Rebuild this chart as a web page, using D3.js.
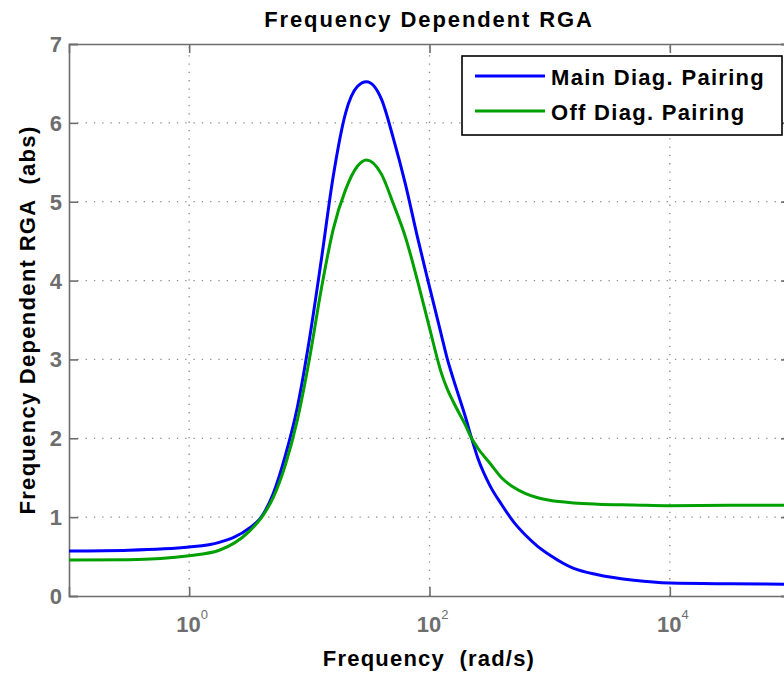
<!DOCTYPE html>
<html>
<head>
<meta charset="utf-8">
<script src="https://cdnjs.cloudflare.com/ajax/libs/d3/7.8.5/d3.min.js"></script>
<style>
  body { margin: 0; background: #fff; }
  svg { display: block; font-family: "Liberation Sans", Arial, sans-serif; }
</style>
</head>
<body>
<svg id="chart" width="784" height="679"></svg>
<script>
// frequency points (rad/s)
const freq = [0.1, 0.316, 1, 1.78, 3.16, 3.98, 5.01, 6.31, 7.94, 10, 12.6, 15.8, 20, 25.1, 29.9,
  39.8, 50.1, 63.1, 79.4, 100, 126, 141, 158, 200, 224, 251, 316, 398, 501, 631, 794, 1000, 1585, 2512,
  5012, 10000, 31623, 100000];
const mainDiag = [0.57, 0.58, 0.62, 0.68, 0.86, 1.0, 1.30, 1.78, 2.39, 3.25, 4.27, 5.32, 6.12, 6.46, 6.52,
  6.3, 5.8, 5.22, 4.55, 3.92, 3.3, 3.0, 2.75, 2.26, 2.0, 1.76, 1.41, 1.16, 0.94, 0.77, 0.63, 0.52, 0.35, 0.27,
  0.2, 0.165, 0.155, 0.15];
const offDiag = [0.455, 0.46, 0.51, 0.58, 0.82, 0.99, 1.25, 1.66, 2.23, 3.0, 3.9, 4.65, 5.15, 5.45, 5.53,
  5.35, 4.97, 4.55, 4.0, 3.40, 2.82, 2.62, 2.46, 2.16, 2.0, 1.88, 1.69, 1.50, 1.378, 1.298, 1.246, 1.213, 1.18, 1.165,
  1.155, 1.145, 1.15, 1.15];
const seriesNames = ["Main Diag. Pairing", "Off Diag. Pairing"];
const seriesColors = ["#0000ff", "#00a000"];
const xTicks = [1, 100, 10000];
const yTicks = [0, 1, 2, 3, 4, 5, 6, 7];

const svg = d3.select("#chart");
const margin = { left: 69, top: 44, right: 790, bottom: 596 };
const axisColor = "#6e6e6e";

const x = d3.scaleLog().domain([0.1, 1e5]).range([margin.left, margin.right]);
const y = d3.scaleLinear().domain([0, 7]).range([margin.bottom, margin.top]);

// grid
const grid = svg.append("g").attr("stroke", "#8a8a8a").attr("stroke-width", 1.3)
  .attr("stroke-dasharray", "1.3,7");
grid.selectAll(".gx").data(xTicks).join("line")
  .attr("x1", d => x(d)).attr("x2", d => x(d))
  .attr("y1", margin.bottom).attr("y2", margin.top);
grid.selectAll(".gy").data(yTicks.slice(1, -1)).join("line")
  .attr("x1", margin.left).attr("x2", margin.right)
  .attr("y1", d => y(d)).attr("y2", d => y(d));

// axes (box with inward ticks)
const xAxis = d3.axisBottom(x).tickValues(xTicks).tickSize(-9).tickFormat("");
const xAxisTop = d3.axisTop(x).tickValues(xTicks).tickSize(-9).tickFormat("");
const yAxis = d3.axisLeft(y).tickValues(yTicks).tickSize(-9).tickFormat("");
const yAxisRight = d3.axisRight(y).tickValues(yTicks).tickSize(-9).tickFormat("");

function styleAxis(g) {
  g.selectAll("path, line").attr("stroke", axisColor).attr("stroke-width", 1.6);
}
svg.append("g").attr("transform", `translate(0,${margin.bottom})`).call(xAxis).call(styleAxis);
svg.append("g").attr("transform", `translate(0,${margin.top})`).call(xAxisTop).call(styleAxis);
svg.append("g").attr("transform", `translate(${margin.left},0)`).call(yAxis).call(styleAxis);
svg.append("g").attr("transform", `translate(${margin.right},0)`).call(yAxisRight).call(styleAxis);

// tick labels
svg.append("g").selectAll("text").data(yTicks).join("text")
  .attr("x", 62).attr("y", d => y(d) + 8)
  .attr("text-anchor", "end")
  .attr("fill", axisColor).attr("font-size", 22).attr("font-weight", "bold")
  .text(d => d);

const xl = svg.append("g").selectAll("text").data(xTicks).join("text")
  .attr("x", d => x(d) + 3).attr("y", 632)
  .attr("text-anchor", "middle")
  .attr("fill", axisColor).attr("font-size", 22).attr("font-weight", "bold");
xl.append("tspan").text("10");
xl.append("tspan").attr("dy", -13).attr("font-size", 13).attr("font-weight", "normal")
  .text(d => Math.round(Math.log10(d)));

// lines
const line = d3.line().x(d => x(d[0])).y(d => y(d[1])).curve(d3.curveMonotoneX);
[mainDiag, offDiag].forEach((vals, i) => {
  svg.append("path")
    .datum(freq.map((f, j) => [f, vals[j]]))
    .attr("fill", "none")
    .attr("stroke", seriesColors[i])
    .attr("stroke-width", 3)
    .attr("d", line);
});

// legend
const lg = svg.append("g");
lg.append("rect").attr("x", 462).attr("y", 56).attr("width", 320).attr("height", 79)
  .attr("fill", "#fff").attr("stroke", "#000").attr("stroke-width", 1.6);
seriesNames.forEach((name, i) => {
  const ly = 76 + i * 35;
  lg.append("line").attr("x1", 475).attr("x2", 545).attr("y1", ly).attr("y2", ly)
    .attr("stroke", seriesColors[i]).attr("stroke-width", 3);
  lg.append("text").attr("x", 551).attr("y", ly + 9)
    .attr("font-size", 22).attr("font-weight", "bold").attr("letter-spacing", 1.3)
    .attr("fill", "#000").text(name);
});

// titles
svg.append("text").attr("x", 429).attr("y", 27).attr("text-anchor", "middle")
  .attr("font-size", 22).attr("font-weight", "bold").attr("letter-spacing", 1.9)
  .text("Frequency Dependent RGA");
svg.append("text").attr("x", 429).attr("y", 666).attr("text-anchor", "middle")
  .attr("font-size", 22).attr("font-weight", "bold").attr("letter-spacing", 1.2)
  .attr("xml:space", "preserve")
  .text("Frequency  (rad/s)");
svg.append("text")
  .attr("transform", `translate(35,${(margin.top + margin.bottom) / 2}) rotate(-90)`)
  .attr("text-anchor", "middle")
  .attr("font-size", 22).attr("font-weight", "bold").attr("letter-spacing", 1.3)
  .attr("xml:space", "preserve")
  .text("Frequency Dependent RGA  (abs)");
</script>
</body>
</html>
